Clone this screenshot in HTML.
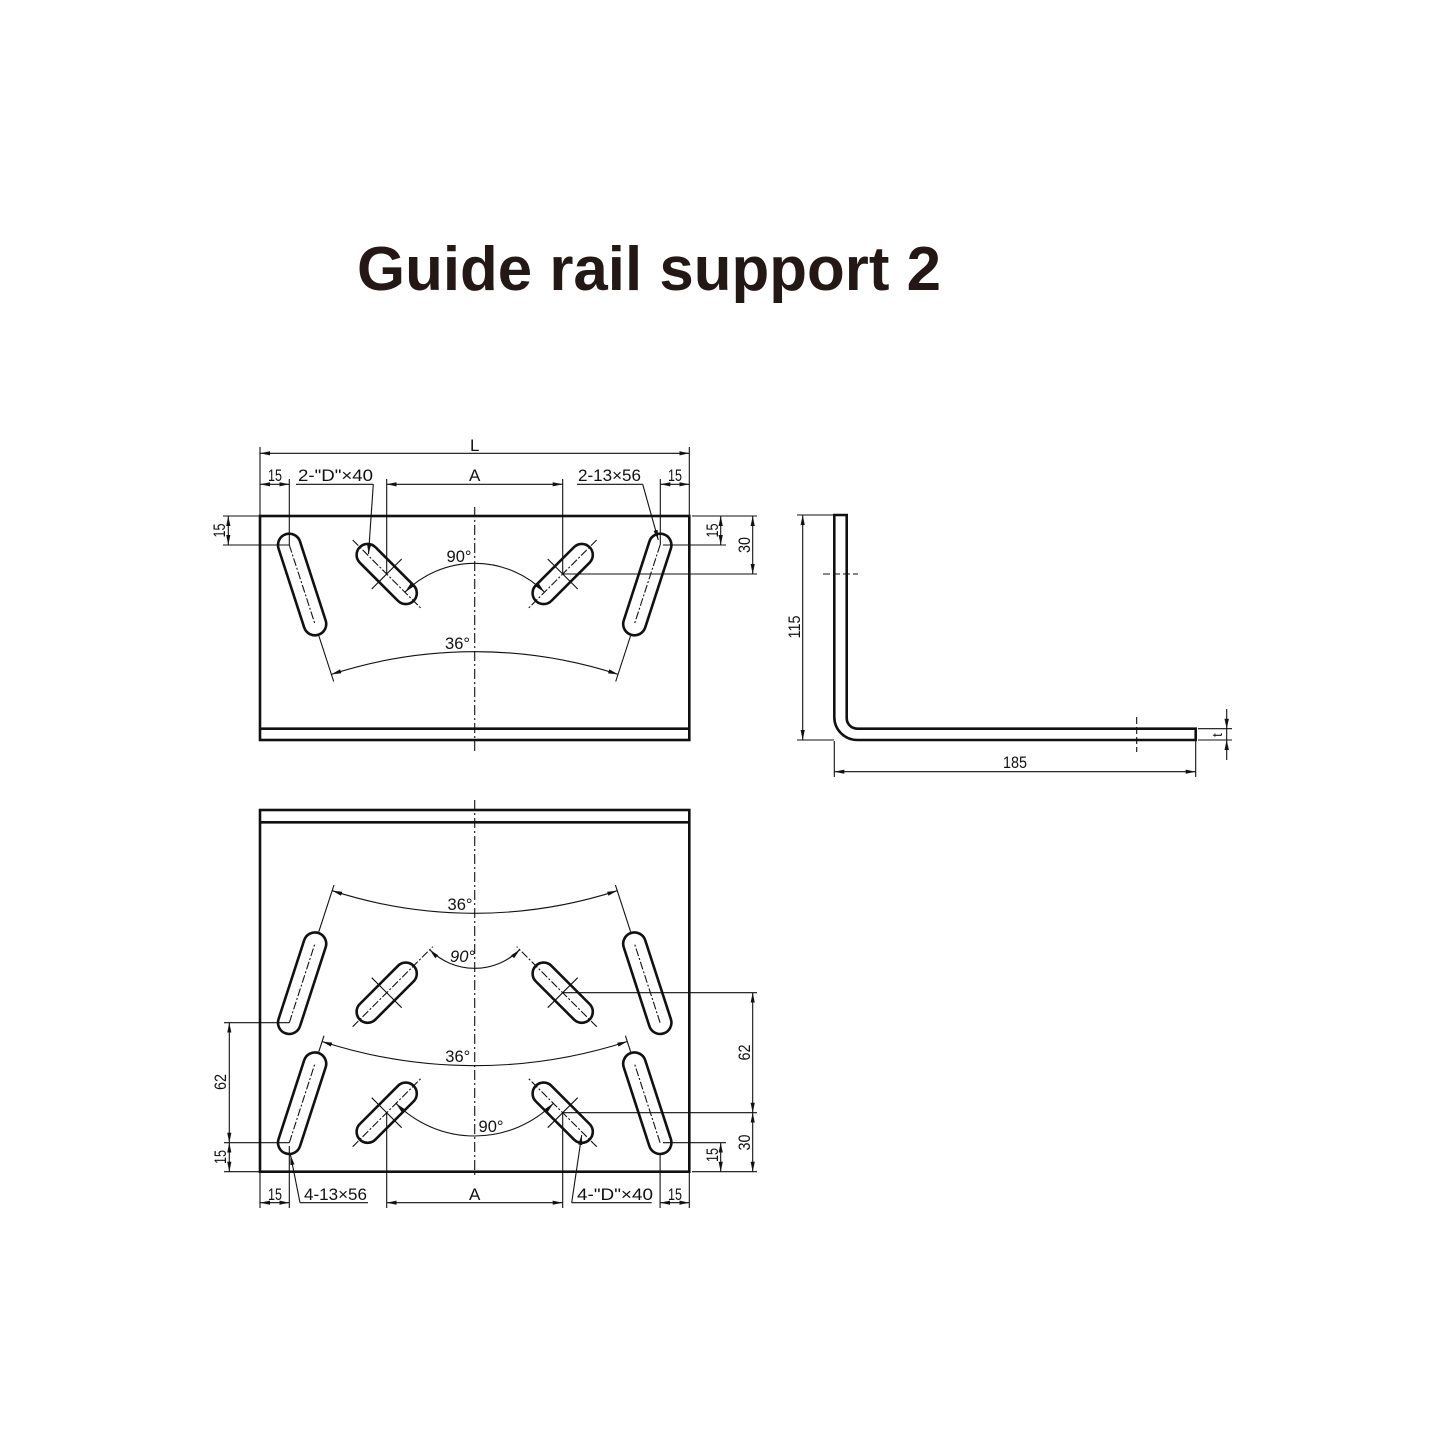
<!DOCTYPE html>
<html><head><meta charset="utf-8"><style>
html,body{margin:0;padding:0;background:#fff;}
svg{display:block;}
text{font-family:"Liberation Sans",sans-serif;fill:#111;}
</style></head><body>
<svg width="1445" height="1445" viewBox="0 0 1445 1445" xmlns="http://www.w3.org/2000/svg">
<defs>
<marker id="a" markerUnits="userSpaceOnUse" markerWidth="12" markerHeight="6" refX="10" refY="3" orient="auto-start-reverse"><path d="M0,0.9 L10,3 L0,5.1z" fill="#111"/></marker>
</defs>
<rect width="1445" height="1445" fill="#fff"/>
<text x="357" y="290" font-size="62" font-weight="bold" style="fill:#231815" textLength="584" lengthAdjust="spacingAndGlyphs">Guide rail support 2</text>

<!-- ============ TOP VIEW ============ -->
<g fill="none" stroke="#111" stroke-width="2.6">
<rect x="260" y="516" width="429.3" height="224"/>
<line x1="260" y1="728.7" x2="689.3" y2="728.7"/>
<!-- slots -->
<rect x="-52.8" y="-11.3" width="105.6" height="22.6" rx="11.3" transform="translate(302.1,584.5) rotate(72)"/>
<rect x="-52.8" y="-11.3" width="105.6" height="22.6" rx="11.3" transform="translate(647.3,584.5) rotate(108)"/>
<rect x="-38" y="-11" width="76" height="22" rx="11" transform="translate(386.7,574) rotate(45)"/>
<rect x="-38" y="-11" width="76" height="22" rx="11" transform="translate(562.7,574) rotate(135)"/>
</g>
<g fill="none" stroke="#111" stroke-width="1.1">
<!-- centerline -->
<line x1="474.7" y1="507" x2="474.7" y2="752" stroke-dasharray="10 3 2 3"/>
<!-- slot axes -->
<line x1="289.3" y1="545" x2="315.2" y2="624.7" stroke-dasharray="8 2 2 2"/>
<line x1="318.9" y1="636" x2="333.7" y2="681.5"/>
<line x1="660.1" y1="545" x2="634.2" y2="624.7" stroke-dasharray="8 2 2 2"/>
<line x1="630.5" y1="636" x2="615.7" y2="681.5"/>
<line x1="352.7" y1="540" x2="420.7" y2="608" stroke-dasharray="8 2 2 2"/>
<line x1="371.7" y1="589" x2="401.7" y2="559"/>
<line x1="596.7" y1="540" x2="528.7" y2="608" stroke-dasharray="8 2 2 2"/>
<line x1="547.7" y1="559" x2="577.7" y2="589"/>
<!-- L -->
<line x1="260" y1="453.3" x2="689.3" y2="453.3" marker-start="url(#a)" marker-end="url(#a)"/>
<line x1="260" y1="447" x2="260" y2="516"/>
<line x1="689.3" y1="447" x2="689.3" y2="516"/>
<!-- 15 left -->
<line x1="260" y1="484.3" x2="289.3" y2="484.3" marker-start="url(#a)" marker-end="url(#a)"/>
<line x1="289.3" y1="479" x2="289.3" y2="545"/>
<!-- D leader -->
<line x1="296" y1="484.3" x2="373.3" y2="484.3"/>
<line x1="373.3" y1="484.3" x2="368.5" y2="554" marker-end="url(#a)"/>
<!-- A -->
<line x1="386.7" y1="484.3" x2="562.7" y2="484.3" marker-start="url(#a)" marker-end="url(#a)"/>
<line x1="386.7" y1="479" x2="386.7" y2="574"/>
<line x1="562.7" y1="479" x2="562.7" y2="574"/>
<!-- 13x56 leader -->
<line x1="577" y1="484.3" x2="642.7" y2="484.3"/>
<line x1="642.7" y1="484.3" x2="658.3" y2="540" marker-end="url(#a)"/>
<!-- 15 right -->
<line x1="660.3" y1="484.3" x2="689.3" y2="484.3" marker-start="url(#a)" marker-end="url(#a)"/>
<line x1="660.3" y1="479" x2="660.3" y2="545"/>
<!-- left vertical 15 -->
<line x1="228.3" y1="516" x2="228.3" y2="545" marker-start="url(#a)" marker-end="url(#a)"/>
<line x1="223" y1="516" x2="260" y2="516"/>
<line x1="223" y1="545" x2="289.3" y2="545"/>
<!-- right vertical 15 / 30 -->
<line x1="720.7" y1="516" x2="720.7" y2="545" marker-start="url(#a)" marker-end="url(#a)"/>
<line x1="752.7" y1="516" x2="752.7" y2="574" marker-start="url(#a)" marker-end="url(#a)"/>
<line x1="692" y1="516" x2="757" y2="516"/>
<line x1="663" y1="545" x2="726" y2="545"/>
<line x1="562.7" y1="574" x2="757" y2="574"/>
<!-- arcs -->
<path d="M331.3,674.4 A464,464 0 0 1 618.1,674.4" marker-start="url(#a)" marker-end="url(#a)"/>
<path d="M404.9,592.2 A98.7,98.7 0 0 1 544.5,592.2" marker-start="url(#a)" marker-end="url(#a)"/>
</g>
<g font-size="17">
<text x="474.7" y="451" text-anchor="middle">L</text>
<text x="275" y="481" text-anchor="middle" textLength="14" lengthAdjust="spacingAndGlyphs">15</text>
<text x="298" y="481" textLength="75" lengthAdjust="spacingAndGlyphs">2-"D"×40</text>
<text x="474.7" y="481" text-anchor="middle">A</text>
<text x="578" y="481" textLength="63" lengthAdjust="spacingAndGlyphs">2-13×56</text>
<text x="675" y="481" text-anchor="middle" textLength="14" lengthAdjust="spacingAndGlyphs">15</text>
<text transform="translate(225,530.5) rotate(-90)" text-anchor="middle" textLength="14" lengthAdjust="spacingAndGlyphs">15</text>
<text transform="translate(718,530.5) rotate(-90)" text-anchor="middle" textLength="14" lengthAdjust="spacingAndGlyphs">15</text>
<text transform="translate(750,545) rotate(-90)" text-anchor="middle" textLength="16" lengthAdjust="spacingAndGlyphs">30</text>
<text x="459" y="562" text-anchor="middle" textLength="25" lengthAdjust="spacingAndGlyphs">90°</text>
<text x="457.5" y="649" text-anchor="middle" textLength="25" lengthAdjust="spacingAndGlyphs">36°</text>
</g>

<!-- ============ SIDE VIEW ============ -->
<path d="M834.3,515 L834.3,717 A23,23 0 0 0 857.3,740 L1195.7,740 L1195.7,728.7 L857.3,728.7 A10.6,10.6 0 0 1 846.7,718.1 L846.7,515 Z" fill="none" stroke="#111" stroke-width="2.6"/>
<g fill="none" stroke="#111" stroke-width="1.1">
<line x1="802.7" y1="515" x2="802.7" y2="740" marker-start="url(#a)" marker-end="url(#a)"/>
<line x1="797" y1="515" x2="833" y2="515"/>
<line x1="797" y1="740" x2="834" y2="740"/>
<line x1="834.3" y1="771.7" x2="1195.7" y2="771.7" marker-start="url(#a)" marker-end="url(#a)"/>
<line x1="834.3" y1="741" x2="834.3" y2="777"/>
<line x1="1195.7" y1="741" x2="1195.7" y2="777"/>
<line x1="1198" y1="728.7" x2="1232" y2="728.7"/>
<line x1="1198" y1="740" x2="1232" y2="740"/>
<line x1="1226.7" y1="709" x2="1226.7" y2="760"/>
<line x1="823" y1="574" x2="858" y2="574" stroke-dasharray="7 3"/>
<line x1="1136.7" y1="717" x2="1136.7" y2="752" stroke-dasharray="7 3"/>
</g>
<polygon points="1224.5,718.7 1228.9,718.7 1226.7,728.7" fill="#111"/>
<polygon points="1224.5,750 1228.9,750 1226.7,740" fill="#111"/>
<g font-size="17">
<text transform="translate(800,627) rotate(-90)" text-anchor="middle" textLength="23" lengthAdjust="spacingAndGlyphs">115</text>
<text x="1015" y="768" text-anchor="middle" textLength="24" lengthAdjust="spacingAndGlyphs">185</text>
<text transform="translate(1222,735) rotate(-90)" text-anchor="middle" font-size="14">t</text>
</g>

<!-- ============ BOTTOM VIEW ============ -->
<g fill="none" stroke="#111" stroke-width="2.6">
<rect x="260" y="810" width="429.3" height="361.7"/>
<line x1="260" y1="822.3" x2="689.3" y2="822.3"/>
<rect x="-52.8" y="-11.3" width="105.6" height="22.6" rx="11.3" transform="translate(302.1,983.2) rotate(-72)"/>
<rect x="-52.8" y="-11.3" width="105.6" height="22.6" rx="11.3" transform="translate(647.3,983.2) rotate(72)"/>
<rect x="-38" y="-11" width="76" height="22" rx="11" transform="translate(386.7,992.7) rotate(-45)"/>
<rect x="-38" y="-11" width="76" height="22" rx="11" transform="translate(562.7,992.7) rotate(45)"/>
<rect x="-52.8" y="-11.3" width="105.6" height="22.6" rx="11.3" transform="translate(302.1,1103.2) rotate(-72)"/>
<rect x="-52.8" y="-11.3" width="105.6" height="22.6" rx="11.3" transform="translate(647.3,1103.2) rotate(72)"/>
<rect x="-38" y="-11" width="76" height="22" rx="11" transform="translate(386.7,1112.7) rotate(-45)"/>
<rect x="-38" y="-11" width="76" height="22" rx="11" transform="translate(562.7,1112.7) rotate(45)"/>
</g>
<g fill="none" stroke="#111" stroke-width="1.1">
<line x1="474.7" y1="800" x2="474.7" y2="1178" stroke-dasharray="10 3 2 3"/>
<!-- upper row axes -->
<line x1="289.3" y1="1022.7" x2="314.9" y2="943.7" stroke-dasharray="8 2 2 2"/>
<line x1="318.6" y1="932.3" x2="334" y2="885"/>
<line x1="660.1" y1="1022.7" x2="634.5" y2="943.7" stroke-dasharray="8 2 2 2"/>
<line x1="630.8" y1="932.3" x2="615.4" y2="885"/>
<line x1="352.7" y1="1026.7" x2="432.7" y2="946.7" stroke-dasharray="8 2 2 2"/>
<line x1="371.7" y1="977.7" x2="401.7" y2="1007.7"/>
<line x1="596.7" y1="1026.7" x2="516.7" y2="946.7" stroke-dasharray="8 2 2 2"/>
<line x1="577.7" y1="977.7" x2="547.7" y2="1007.7"/>
<!-- lower row axes -->
<line x1="289.3" y1="1142.7" x2="314.9" y2="1063.7" stroke-dasharray="8 2 2 2"/>
<line x1="318.6" y1="1052.3" x2="324" y2="1035.7"/>
<line x1="660.1" y1="1142.7" x2="634.5" y2="1063.7" stroke-dasharray="8 2 2 2"/>
<line x1="630.8" y1="1052.3" x2="625.4" y2="1035.7"/>
<line x1="352.7" y1="1146.7" x2="420.7" y2="1078.7" stroke-dasharray="8 2 2 2"/>
<line x1="371.7" y1="1097.7" x2="401.7" y2="1127.7"/>
<line x1="596.7" y1="1146.7" x2="528.7" y2="1078.7" stroke-dasharray="8 2 2 2"/>
<line x1="577.7" y1="1097.7" x2="547.7" y2="1127.7"/>
<!-- arcs -->
<path d="M332.2,890.7 A461.2,461.2 0 0 0 617.2,890.7" marker-start="url(#a)" marker-end="url(#a)"/>
<path d="M429.7,949.7 A63.6,63.6 0 0 0 519.7,949.7" marker-start="url(#a)" marker-end="url(#a)"/>
<path d="M322.1,1041.5 A493.7,493.7 0 0 0 627.3,1041.5" marker-start="url(#a)" marker-end="url(#a)"/>
<path d="M396,1103.4 A111.3,111.3 0 0 0 553.4,1103.4" marker-start="url(#a)" marker-end="url(#a)"/>
<!-- left dims -->
<line x1="229.3" y1="1022.7" x2="229.3" y2="1142.7" marker-start="url(#a)" marker-end="url(#a)"/>
<line x1="229.3" y1="1142.7" x2="229.3" y2="1171.7" marker-start="url(#a)" marker-end="url(#a)"/>
<line x1="224" y1="1022.7" x2="289.3" y2="1022.7"/>
<line x1="224" y1="1142.7" x2="289.3" y2="1142.7"/>
<line x1="224" y1="1171.7" x2="260" y2="1171.7"/>
<!-- bottom dims -->
<line x1="260" y1="1202.7" x2="289.3" y2="1202.7" marker-start="url(#a)" marker-end="url(#a)"/>
<line x1="260" y1="1171.7" x2="260" y2="1208"/>
<line x1="289.3" y1="1146" x2="289.3" y2="1208"/>
<line x1="300" y1="1202.7" x2="368" y2="1202.7"/>
<line x1="300" y1="1202.7" x2="290.5" y2="1155" marker-end="url(#a)"/>
<line x1="386.7" y1="1202.7" x2="562.7" y2="1202.7" marker-start="url(#a)" marker-end="url(#a)"/>
<line x1="386.7" y1="1112.7" x2="386.7" y2="1208"/>
<line x1="562.7" y1="1112.7" x2="562.7" y2="1208"/>
<line x1="571.7" y1="1202.7" x2="651.7" y2="1202.7"/>
<line x1="571.7" y1="1202.7" x2="581.7" y2="1135" marker-end="url(#a)"/>
<line x1="660.1" y1="1202.7" x2="689.3" y2="1202.7" marker-start="url(#a)" marker-end="url(#a)"/>
<line x1="660.1" y1="1155" x2="660.1" y2="1208"/>
<line x1="689.3" y1="1171.7" x2="689.3" y2="1208"/>
<!-- right dims -->
<line x1="720.7" y1="1142.7" x2="720.7" y2="1171.7" marker-start="url(#a)" marker-end="url(#a)"/>
<line x1="752.7" y1="1112.7" x2="752.7" y2="1171.7" marker-start="url(#a)" marker-end="url(#a)"/>
<line x1="752.7" y1="992.7" x2="752.7" y2="1112.7" marker-start="url(#a)" marker-end="url(#a)"/>
<line x1="663" y1="1142.7" x2="726" y2="1142.7"/>
<line x1="692" y1="1171.7" x2="757" y2="1171.7"/>
<line x1="563" y1="992.7" x2="757" y2="992.7"/>
<line x1="563" y1="1112.7" x2="757" y2="1112.7"/>
</g>
<g font-size="17">
<text x="460" y="910" text-anchor="middle" textLength="25" lengthAdjust="spacingAndGlyphs">36°</text>
<text x="462.5" y="962" text-anchor="middle" textLength="25" lengthAdjust="spacingAndGlyphs" font-style="italic">90°</text>
<text x="457.8" y="1062" text-anchor="middle" textLength="25" lengthAdjust="spacingAndGlyphs">36°</text>
<text x="491" y="1132" text-anchor="middle" textLength="25" lengthAdjust="spacingAndGlyphs">90°</text>
<text transform="translate(226,1082) rotate(-90)" text-anchor="middle" textLength="16" lengthAdjust="spacingAndGlyphs">62</text>
<text transform="translate(226,1157) rotate(-90)" text-anchor="middle" textLength="14" lengthAdjust="spacingAndGlyphs">15</text>
<text x="275" y="1200" text-anchor="middle" textLength="14" lengthAdjust="spacingAndGlyphs">15</text>
<text x="304" y="1200" textLength="63" lengthAdjust="spacingAndGlyphs">4-13×56</text>
<text x="474.7" y="1200" text-anchor="middle">A</text>
<text x="577" y="1200" textLength="76" lengthAdjust="spacingAndGlyphs">4-"D"×40</text>
<text x="675" y="1200" text-anchor="middle" textLength="14" lengthAdjust="spacingAndGlyphs">15</text>
<text transform="translate(718,1155) rotate(-90)" text-anchor="middle" textLength="14" lengthAdjust="spacingAndGlyphs">15</text>
<text transform="translate(750,1142.5) rotate(-90)" text-anchor="middle" textLength="16" lengthAdjust="spacingAndGlyphs">30</text>
<text transform="translate(750,1052.5) rotate(-90)" text-anchor="middle" textLength="16" lengthAdjust="spacingAndGlyphs">62</text>
</g>
</svg>
</body></html>
